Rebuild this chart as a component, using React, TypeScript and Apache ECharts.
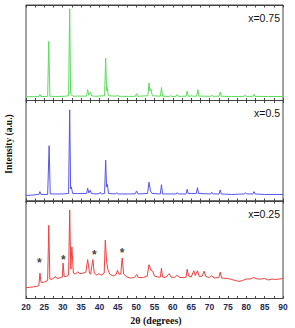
import React, { useEffect, useRef } from "react";
import * as echarts from "echarts";

const xTicks = [20, 25, 30, 35, 40, 45, 50, 55, 60, 65, 70, 75, 80, 85, 90];
const panelLabels = ["x=0.75", "x=0.5", "x=0.25"];
const seriesColors = ["#5ade5a", "#5555ea", "#ef4040"];

const green: number[][] = [
  [20, 4], [22, 4], [23.5, 4.2], [23.8, 6.2], [24.1, 4.2], [25.9, 4.3], [26.2, 62], [26.5, 4.5],
  [28, 4.2], [30.5, 4.4], [31.6, 5], [31.9, 96], [32.15, 7], [32.4, 5.5], [33, 4.4], [34, 4.6],
  [36.5, 4.6], [36.8, 11.4], [37.1, 5.5], [37.6, 8.5], [37.9, 4.8], [39, 4.4], [41.4, 5],
  [41.7, 44.4], [41.95, 10], [42.1, 13.8], [42.45, 5], [44.6, 4.5], [44.9, 5.8], [45.2, 4.4],
  [48, 4.3], [49.8, 4.4], [50.1, 7.1], [50.4, 4.4], [53.2, 5], [53.5, 18.4], [53.75, 10],
  [54.0, 12.4], [54.4, 5], [56.6, 4.5], [56.9, 13.5], [57.2, 4.5], [59.1, 4.2], [59.4, 5.2],
  [59.7, 4.2], [60.9, 4.4], [61.2, 6.2], [61.5, 4.4], [63.6, 4.5], [63.9, 9.9], [64.2, 4.6],
  [64.8, 4.5], [65.1, 5.4], [65.4, 4.5], [66.5, 4.6], [66.8, 11.4], [67.1, 4.6], [70.3, 4.4],
  [70.6, 5.6], [70.9, 4.4], [72.6, 4.5], [72.9, 8.8], [73.2, 4.4], [76, 4.2], [79.4, 4.3],
  [79.7, 5.6], [80, 4.3], [81.8, 4.4], [82.1, 6.6], [82.4, 4.3], [86, 4.2], [90, 4.2],
];

const blue: number[][] = [
  [20, 5.5], [22, 6], [23.5, 6.5], [23.8, 9.3], [24.1, 6.5], [25.9, 6.5], [26.3, 55], [26.6, 7],
  [28, 7], [30, 7], [31.6, 7.5], [31.9, 90.7], [32.15, 12], [32.35, 14], [32.7, 7.5], [34, 7.5],
  [36.5, 7.5], [36.8, 12.7], [37.1, 8], [37.5, 10.7], [37.8, 7.5], [39, 7], [39.9, 7.2],
  [40.2, 8.7], [40.5, 7], [41.4, 7.5], [41.7, 40.7], [41.95, 14], [42.15, 16.7], [42.5, 7.5],
  [44.4, 7], [44.7, 8.3], [45, 7], [48, 7], [49.8, 7.2], [50.1, 10], [50.5, 7], [53.1, 7.5],
  [53.5, 18.7], [53.9, 10], [54.3, 7.5], [56.6, 7], [56.9, 16.3], [57.2, 7], [59, 7],
  [60.9, 7], [61.2, 8.3], [61.5, 7], [63.6, 7], [63.9, 11.7], [64.2, 7.5], [65, 7.5],
  [66.4, 7.5], [66.7, 13.3], [67, 7.5], [70.3, 7], [70.6, 8.7], [70.9, 7], [72.6, 7],
  [72.9, 11], [73.2, 7], [76, 6.5], [79.5, 7], [79.8, 8.3], [80.1, 7], [81.8, 7], [82.1, 9.3],
  [82.4, 7], [85, 6.5], [90, 6.5],
];

const red: number[][] = [
  [20, 11], [21, 11.5], [22, 11.9], [23, 12.5], [23.5, 13.4], [23.8, 26], [24.1, 16.5],
  [25, 16.8], [25.9, 18.6], [26.2, 75], [26.5, 20], [27, 19.6], [27.6, 21], [28, 22.7],
  [28.5, 20.3], [29.5, 21.6], [29.9, 22], [30.1, 36.4], [30.4, 22.5], [31, 22.7], [31.6, 24],
  [31.9, 90.7], [32.2, 30], [32.5, 52.9], [32.9, 26], [33.5, 25], [34.1, 27.5], [34.6, 25.5],
  [35.5, 26], [36.3, 27], [36.8, 39.9], [37.3, 26], [37.6, 25], [38.2, 39.9], [38.6, 26],
  [39.3, 24], [39.9, 25.5], [40.5, 24], [41.3, 26], [41.6, 59.8], [42.0, 36], [42.3, 30],
  [42.8, 25], [43.8, 23], [44.6, 25], [44.9, 28.9], [45.3, 25], [45.8, 25], [46.2, 41.5],
  [46.6, 25], [47.5, 22], [48.5, 21], [49.5, 21.5], [50.2, 24.7], [50.6, 21.5], [52, 21.5],
  [53, 23], [53.5, 34.7], [54, 29], [54.5, 28], [55, 23], [56, 22], [56.6, 22], [56.9, 31.2],
  [57.2, 22], [58, 21.5], [59, 25.5], [59.5, 22], [60.5, 21.5], [61.2, 24], [61.8, 21.5],
  [63, 21.5], [63.6, 22], [63.9, 30], [64.3, 23], [65, 22], [65.7, 28.5], [66.1, 23.5],
  [66.7, 28.5], [67.2, 22.5], [68, 23], [68.5, 28], [69, 22.5], [70, 21.5], [70.6, 23.5],
  [71.2, 21], [72.5, 21.5], [72.9, 27], [73.3, 21], [75, 20.5], [76, 19.5], [77, 18.5],
  [78, 17.5], [79, 18.5], [80, 20], [81, 20], [82, 21.5], [83, 20], [84, 20], [85, 20.5],
  [86, 19], [87, 20], [88, 19.5], [89, 20], [90, 20.5],
];

const asterisks: number[][] = [
  [23.6, 39], [30.2, 42.6], [38.6, 47.7], [46.2, 49.5],
];

const gridTops = [5, 100.5, 201];
const gridHeights = [95.5, 100.5, 97.5];

export default function App() {
  const ref = useRef<HTMLDivElement>(null);
  useEffect(() => {
    if (!ref.current) return;
    const chart = echarts.init(ref.current, null, { renderer: "svg" });
    const datasets = [green, blue, red];
    const grids = gridTops.map((t, i) => ({
      left: 26,
      right: 12,
      top: t,
      height: gridHeights[i],
      show: true,
      borderColor: "#444",
      borderWidth: 1,
      backgroundColor: "#fff",
    }));
    const xAxes: any[] = [];
    [0, 1, 2].forEach((i) => {
      ["bottom", "top"].forEach((pos) => {
        xAxes.push({
          type: "value",
          gridIndex: i,
          position: pos,
          min: xTicks[0],
          max: xTicks[xTicks.length - 1],
          interval: 5,
          axisLine: { show: true, lineStyle: { color: "#444", width: 1 } },
          axisTick: { show: true, inside: true, length: 2.5, lineStyle: { color: "#444" } },
          minorTick: { show: true, splitNumber: 2, length: 2.5, lineStyle: { color: "#444" } },
          splitLine: { show: false },
          axisLabel: {
            show: i === 2 && pos === "bottom",
            color: "#1d2a55",
            fontFamily: "Liberation Sans",
            fontWeight: "bold",
            fontSize: 8.5,
            margin: 4,
          },
        });
      });
    });
    const yAxes = [0, 1, 2].map((i) => ({
      type: "value",
      gridIndex: i,
      min: 0,
      max: 100,
      show: true,
      axisLine: { show: false },
      axisTick: { show: false },
      axisLabel: { show: false },
      splitLine: { show: false },
    }));
    const series: any[] = datasets.map((d, i) => ({
      type: "line",
      xAxisIndex: i * 2,
      yAxisIndex: i,
      data: d,
      showSymbol: false,
      symbol: "none",
      lineStyle: { color: seriesColors[i], width: 1 },
      z: 3,
    }));
    series.push({
      type: "scatter",
      xAxisIndex: 4,
      yAxisIndex: 2,
      data: asterisks,
      symbol: "circle",
      symbolSize: 1,
      itemStyle: { color: "rgba(0,0,0,0)" },
      label: {
        show: true,
        position: "inside",
        formatter: "*",
        color: "#111",
        fontFamily: "Liberation Sans",
        fontWeight: "bold",
        fontSize: 12,
        offset: [0, 3],
      },
      z: 5,
    });
    const graphic: any[] = panelLabels.map((t, i) => ({
      type: "text",
      right: 15,
      top: gridTops[i] + 7,
      style: {
        text: t,
        fontFamily: "Liberation Sans",
        fontSize: 10.5,
        fill: "#111",
      },
      z: 10,
    }));
    graphic.push({
      type: "text",
      x: 9,
      y: 144,
      rotation: Math.PI / 2,
      style: {
        text: "Intensity (a.u.)",
        fontFamily: "Liberation Serif",
        fontWeight: "bold",
        fontSize: 9.5,
        fill: "#111",
        align: "center",
        verticalAlign: "middle",
      },
      z: 10,
    });
    graphic.push({
      type: "text",
      x: 156,
      y: 320,
      style: {
        text: "2θ (degrees)",
        fontFamily: "Liberation Serif",
        fontWeight: "bold",
        fontSize: 10,
        fill: "#111",
        align: "center",
        verticalAlign: "middle",
      },
      z: 10,
    });
    chart.setOption({
      animation: false,
      backgroundColor: "#fff",
      grid: grids,
      xAxis: xAxes,
      yAxis: yAxes,
      series,
      graphic,
    });
    return () => chart.dispose();
  }, []);
  return (
    <div
      ref={ref}
      style={{ position: "fixed", left: 0, top: 0, width: 295, height: 328, background: "#fff" }}
    />
  );
}
